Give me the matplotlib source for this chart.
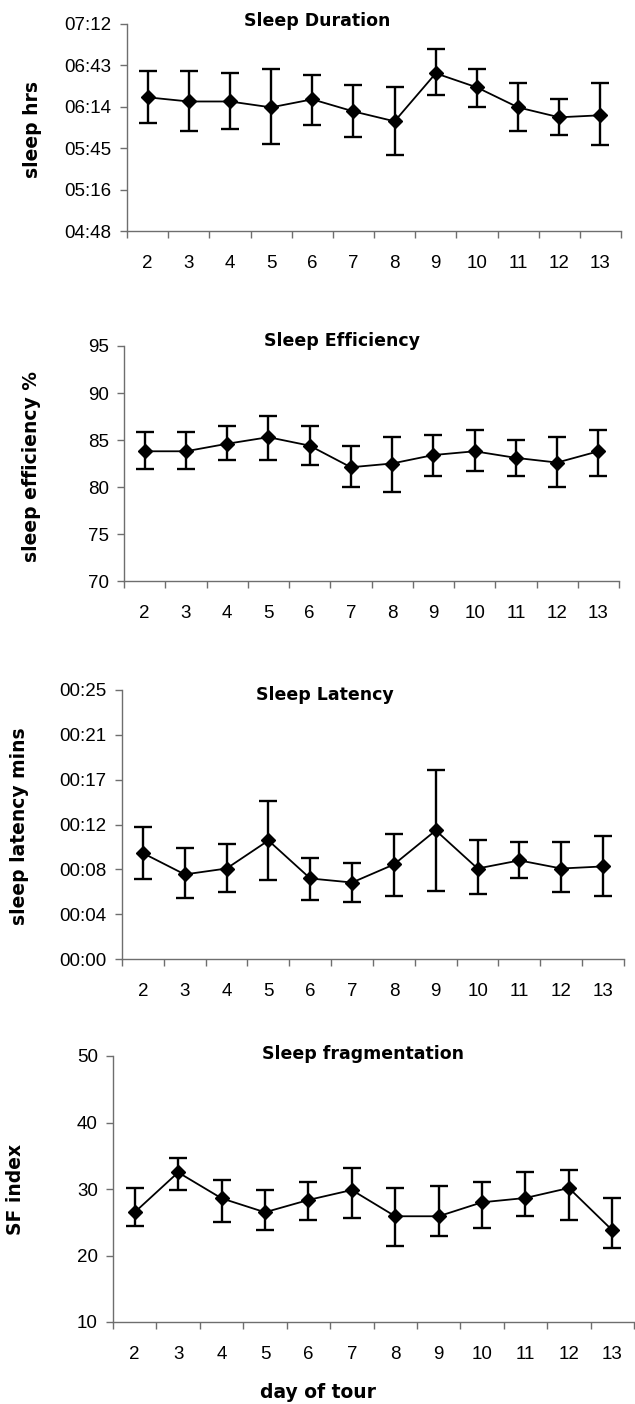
import math
import matplotlib
matplotlib.use("Agg")
import matplotlib.pyplot as plt
from matplotlib.ticker import FixedLocator, FuncFormatter, NullFormatter

plt.rcParams['font.family'] = ['Liberation Sans', 'DejaVu Sans']

days = [2, 3, 4, 5, 6, 7, 8, 9, 10, 11, 12, 13]

# Sleep duration (minutes)
dur_mean = [381.0, 378.1, 378.1, 374.0, 379.6, 371.2, 364.3, 397.7, 387.9, 374.0, 367.1, 368.5]
dur_low = [362.9, 357.3, 358.7, 348.8, 361.4, 353.4, 340.7, 382.3, 374.0, 357.3, 354.5, 347.6]
dur_high = [399.0, 399.0, 397.7, 400.5, 396.3, 389.4, 387.9, 414.4, 400.5, 390.7, 379.6, 390.7]

# Sleep efficiency (%)
eff_mean = [83.8, 83.8, 84.6, 85.3, 84.4, 82.1, 82.5, 83.4, 83.8, 83.1, 82.6, 83.8]
eff_low = [81.9, 81.9, 82.9, 82.9, 82.3, 80.0, 79.5, 81.2, 81.7, 81.2, 80.0, 81.2]
eff_high = [85.9, 85.9, 86.5, 87.6, 86.5, 84.4, 85.3, 85.5, 86.1, 85.0, 85.3, 86.1]

# Sleep latency (minutes)
lat_mean = [10.2, 8.15, 8.72, 11.42, 7.76, 7.37, 9.11, 12.39, 8.72, 9.50, 8.72, 8.92]
lat_low = [7.7, 5.83, 6.41, 7.57, 5.64, 5.45, 6.03, 6.60, 6.22, 7.76, 6.41, 6.03]
lat_high = [12.7, 10.65, 11.04, 15.25, 9.69, 9.27, 12.00, 18.17, 11.42, 11.23, 11.23, 11.81]

# Sleep fragmentation index
sf_mean = [26.5, 32.5, 28.6, 26.5, 28.35, 29.85, 25.9, 25.9, 28.0, 28.65, 30.15, 23.8]
sf_low = [24.45, 29.85, 25.05, 23.85, 25.35, 25.65, 21.45, 22.95, 24.15, 25.9, 25.35, 21.15]
sf_high = [30.15, 34.65, 31.35, 29.85, 31.05, 33.15, 30.15, 30.45, 31.05, 32.55, 32.85, 28.65]

titles = ["Sleep Duration", "Sleep Efficiency", "Sleep Latency", "Sleep fragmentation"]
ylabels = ["sleep hrs", "sleep efficiency %", "sleep latency mins", "SF index"]
xlabel = "day of tour"

dur_ticks = [288 + 28.8 * i for i in range(6)]
eff_ticks = [70, 75, 80, 85, 90, 95]
lat_ticks = [4.32 * i for i in range(7)]
sf_ticks = [10, 20, 30, 40, 50]

W, H = 635, 1404
fig = plt.figure(figsize=(W / 100, H / 100), dpi=100)

def hhmm(x, pos=None):
    m = math.floor(round(x * 10) / 10 + 1e-9)
    return "%02d:%02d" % (m // 60, m % 60)

def mmonly(x, pos=None):
    m = math.floor(round(x * 100) / 100 + 1e-9)
    return "%02d:%02d" % (m // 60, m % 60)

# (left, right, top, bottom) in pixels
boxes = [(127, 621, 24, 231), (124, 619, 346, 581), (122, 624, 690, 959), (113, 634, 1056, 1322)]
title_pos = [(317, 21), (342, 341), (325, 695), (363, 1054)]
ylab_pos = [(32, 129), (32, 466), (20, 826), (16, 1189)]

panels = [
    (dur_mean, dur_low, dur_high, dur_ticks, FuncFormatter(hhmm)),
    (eff_mean, eff_low, eff_high, eff_ticks, None),
    (lat_mean, lat_low, lat_high, lat_ticks, FuncFormatter(mmonly)),
    (sf_mean, sf_low, sf_high, sf_ticks, None),
]

lab_font = ['DejaVu Sans']
axis_col = '#6e6e6e'
for i, (mean, low, high, yt, fmt) in enumerate(panels):
    l, r, t, b = boxes[i]
    ax = fig.add_axes([l / W, 1 - b / H, (r - l) / W, (b - t) / H])
    yerr = [[m - lo for m, lo in zip(mean, low)], [hi - m for m, hi in zip(mean, high)]]
    ax.errorbar(days, mean, yerr=yerr, fmt='-', color='black', lw=1.3,
                marker='D', ms=7.5, mfc='black', mec='black',
                ecolor='black', elinewidth=1.7, capsize=6.5, capthick=1.7, zorder=3)
    ax.set_xlim(1.5, 13.5)
    ax.set_ylim(yt[0], yt[-1])
    for s in ['top', 'right']:
        ax.spines[s].set_visible(False)
    for s in ['left', 'bottom']:
        ax.spines[s].set_color(axis_col)
        ax.spines[s].set_linewidth(1.0)
    ax.yaxis.set_major_locator(FixedLocator(yt))
    if fmt is not None:
        ax.yaxis.set_major_formatter(fmt)
    ax.xaxis.set_major_locator(FixedLocator([d + 0.5 for d in [1] + days]))
    ax.xaxis.set_major_formatter(NullFormatter())
    ax.xaxis.set_minor_locator(FixedLocator(days))
    ax.set_xticklabels([str(d) for d in days], minor=True)
    ax.tick_params(axis='x', which='major', direction='out', length=5, width=1, color=axis_col)
    ax.tick_params(axis='x', which='minor', length=0, pad=17, labelsize=13.5)
    ax.tick_params(axis='y', direction='out', length=5, width=1, color=axis_col, labelsize=13.5, pad=6)
    ax.patch.set_alpha(0)
    fig.text(title_pos[i][0] / W, 1 - title_pos[i][1] / H, titles[i], ha='center', va='center',
             fontsize=12.5, fontweight='bold', family=lab_font)
    fig.text(ylab_pos[i][0] / W, 1 - ylab_pos[i][1] / H, ylabels[i], ha='center', va='center',
             rotation=90, fontsize=13.5, fontweight='bold', family=lab_font)

fig.text(318 / W, 1 - 1393 / H, xlabel, ha='center', va='center', fontsize=13.5,
         fontweight='bold', family=lab_font)

fig.savefig("out.png", dpi=100, facecolor='white')
